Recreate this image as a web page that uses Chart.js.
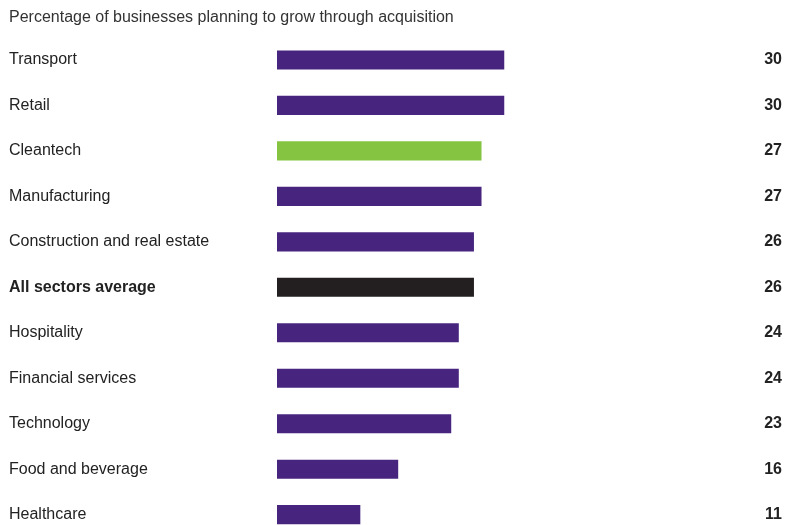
<!DOCTYPE html>
<html>
<head>
<meta charset="utf-8">
<script src="https://cdn.jsdelivr.net/npm/chart.js@4"></script>
<style>
  html, body { margin: 0; padding: 0; background: #fff; overflow: hidden; }
  #wrap { width: 799px; height: 547px; position: relative; }
</style>
</head>
<body>
<div id="wrap"><canvas id="graph"></canvas></div>
<script>
const sectors = [
    'Transport', 'Retail', 'Cleantech', 'Manufacturing', 'Construction and real estate',
    'All sectors average', 'Hospitality', 'Financial services', 'Technology',
    'Food and beverage', 'Healthcare'
];
const shares = [30, 30, 27, 27, 26, 26, 24, 24, 23, 16, 11];
const purple = '#47257f';
const barColors = [purple, purple, '#84c441', purple, purple, '#231f20', purple, purple, purple, purple, purple];

const fontFamily = '"Liberation Sans", Arial, sans-serif';

const config = {
    type: 'bar',
    data: {
        labels: sectors,
        datasets: [{
            data: shares,
            backgroundColor: barColors,
            barPercentage: 0.42,
            categoryPercentage: 1,
            yAxisID: 'y'
        }]
    },
    options: {
        indexAxis: 'y',
        responsive: true,
        maintainAspectRatio: false,
        animation: false,
        layout: { padding: { top: 8, left: 9, right: 17, bottom: 0 } },
        scales: {
            x: {
                min: 0,
                max: 40,
                display: false
            },
            y: {
                position: 'left',
                grid: { display: false },
                border: { display: false },
                ticks: {
                    crossAlign: 'far',
                    color: '#222',
                    padding: 0,
                    font: ctx => ({ family: fontFamily, size: 16, weight: ctx.index === 5 ? 'bold' : 'normal' })
                },
                afterFit: axis => { axis.width = 268; }
            },
            y2: {
                position: 'right',
                type: 'category',
                labels: shares.map(v => String(v)),
                offset: true,
                grid: { display: false },
                border: { display: false },
                ticks: {
                    crossAlign: 'far',
                    color: '#222',
                    padding: 0,
                    font: { family: fontFamily, size: 16, weight: 'bold' }
                },
                afterFit: axis => { axis.width = 202; }
            }
        },
        plugins: {
            legend: { display: false },
            tooltip: { enabled: false },
            title: {
                display: true,
                text: 'Percentage of businesses planning to grow through acquisition',
                align: 'start',
                color: '#333',
                font: { family: fontFamily, size: 16, weight: 'normal' },
                padding: { top: 0, bottom: 10 }
            }
        }
    }
};

const myChart = new Chart(document.getElementById('graph'), config);
</script>
</body>
</html>
